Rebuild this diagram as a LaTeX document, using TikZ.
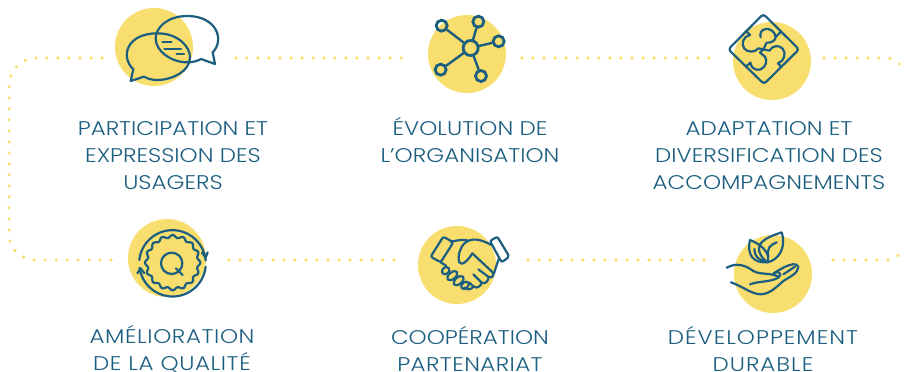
\documentclass[tikz,border=0pt]{standalone}
\usepackage{fontspec}
\setmainfont{Poppins}[UprightFont=* Light,FakeStretch=1.16]
\usetikzlibrary{arrows.meta}
\definecolor{sun}{HTML}{F8DE6E}
\definecolor{ink}{HTML}{1B5E80}
\tikzset{
 disc/.style={circle,fill=sun,draw=none,minimum size=78pt,inner sep=0pt},
 dots/.style={draw=sun,line width=3.6pt,line cap=round,dash pattern=on 0pt off 11pt},
 label/.style={text=ink,align=center,font=\fontsize{19.8}{27}\selectfont,inner sep=0pt},
 icon/.style={draw=ink,line width=2.2pt,line cap=round,line join=round},
 netc/.style={circle,draw=ink,line width=2.8pt,minimum size=11pt,inner sep=0pt},
 hub/.style={circle,draw=ink,line width=2.8pt,minimum size=15pt,inner sep=0pt},
 zoomed/.style={x=0.33333pt,y=-0.33333pt}
}
\begin{document}
\begin{tikzpicture}[x=1pt,y=-1pt]
\useasboundingbox (0,0) rectangle (906,372);
% discs
\node[disc] (c1) at (154,47) {};
\node[disc] (c2) at (467,54) {};
\node[disc] (c3) at (772,61) {};
\node[disc] (c4) at (167,258) {};
\node[disc] (c5) at (457,265) {};
\node[disc] (c6) at (773,274) {};
% dotted connectors
\coordinate (a1) at (102,58); \coordinate (a2) at (236,58); \coordinate (a3) at (410,58);
\coordinate (a4) at (522,58); \coordinate (a5) at (716,58); \coordinate (a6) at (824,58);
\coordinate (a7) at (902,67);
\coordinate (b1) at (115,260); \coordinate (b2) at (229,260); \coordinate (b3) at (396,260);
\coordinate (b4) at (528,260); \coordinate (b5) at (714,260); \coordinate (b6) at (833,260);
\coordinate (b7) at (903,251);
\draw[dots] (a1) -- (38,58) .. controls (20,58) and (9,70) .. (9,88) -- (9,232) .. controls (9,250) and (20,260) .. (38,260) -- (b1);
\draw[dots] (a2) -- (a3);
\draw[dots] (a4) -- (a5);
\draw[dots] (a6) -- (884,58) .. controls (892,58) and (898,61) .. (a7);
\draw[dots] (b2) -- (b3);
\draw[dots] (b4) -- (b5);
\draw[dots] (b6) -- (884,260) .. controls (892,260) and (898,257) .. (b7);
% labels
\node[label] (t1) at (173,156) {PARTICIPATION ET\\EXPRESSION DES\\USAGERS};
\node[label] (t2) at (470,140) {ÉVOLUTION DE\\L’ORGANISATION};
\node[label] (t3) at (769,156) {ADAPTATION ET\\DIVERSIFICATION DES\\ACCOMPAGNEMENTS};
\node[label] (t4) at (172,349) {\addfontfeature{LetterSpace=3}AMÉLIORATION\\\addfontfeature{LetterSpace=3}DE LA QUALITÉ};
\node[label] (t5) at (470,349) {COOPÉRATION\\\addfontfeature{LetterSpace=2}PARTENARIAT};
\node[label] (t6) at (763,349) {\addfontfeature{LetterSpace=5}DÉVELOPPEMENT\\\addfontfeature{LetterSpace=5}DURABLE};
% icon 1: speech bubbles
\begin{scope}[shift={(100,0)},zoomed]
\draw[icon] (100,208) .. controls (60,170) and (80,100) .. (172,100) .. controls (235,100) and (270,140) .. (270,172) .. controls (270,215) and (215,240) .. (172,240) .. controls (155,240) and (143,236) .. (132,230) -- (92,243) -- cycle;
\draw[icon] (338,157) .. controls (375,120) and (350,48) .. (262,48) .. controls (200,48) and (167,85) .. (167,115) .. controls (167,155) and (215,187) .. (262,187) .. controls (278,187) and (292,183) .. (303,177) -- (345,192) -- cycle;
\draw[icon] (187,127) -- (215,127) (193,146) -- (243,146) (230,162) -- (252,162);
\end{scope}
% icon 2: network
\begin{scope}[shift={(410,0)},zoomed]
\node[hub] (n0) at (182,144) {};
\node[netc] (n1) at (95,77) {};
\node[netc] (n2) at (205,65) {};
\node[netc] (n3) at (266,124) {};
\node[netc] (n4) at (213,228) {};
\node[netc] (n5) at (92,209) {};
\draw[icon,line width=2.4pt] (n0) -- (n1) (n0) -- (n2) (n0) -- (n3) (n0) -- (n4) (n0) -- (n5);
\end{scope}
% icon 3: puzzle
\begin{scope}[shift={(710,0)},zoomed]
\draw[icon,rounded corners=3pt] (160,42) -- (267,148) -- (162,252) -- (55,148) -- cycle;
\draw[icon] (108,93) -- (120,105) .. controls (100,108) and (92,132) .. (103,146) .. controls (113,158) and (135,158) .. (145,145) -- (160,148);
\draw[icon] (213,95) -- (197,111) .. controls (195,95) and (180,85) .. (168,87) .. controls (155,88) and (148,100) .. (152,112);
\draw[icon] (197,111) .. controls (198,122) and (180,130) .. (170,128) -- (160,148);
\draw[icon] (215,202) -- (204,190) .. controls (222,185) and (230,160) .. (218,146) .. controls (208,135) and (188,135) .. (178,152) -- (160,148);
\draw[icon] (108,200) -- (121,188) .. controls (122,205) and (140,213) .. (152,208) .. controls (168,202) and (173,180) .. (165,170) -- (150,158) -- (160,148);
\end{scope}
% icon 4: quality
\begin{scope}[shift={(110,210)},zoomed]
\draw[icon] (88,150) arc[start angle=-174,end angle=-5,radius=100];
\draw[icon] (276,128) -- (287,143) -- (293,127);
\draw[icon] (287,170) arc[start angle=6,end angle=172,radius=100];
\draw[icon] (82,190) -- (92,175) -- (103,190);
\draw[icon] plot[domain=0:360,samples=181,smooth] ({188+79*cos(\x)+4*cos(16*\x)*cos(\x)},{158+79*sin(\x)+4*cos(16*\x)*sin(\x)});
\draw[icon] (185,160) circle[radius=32];
\draw[icon] (198,175) -- (218,195);
\end{scope}
% icon 5: handshake
\begin{scope}[shift={(410,215)},zoomed]
\draw[icon,rounded corners=2pt] (100,65) -- (130,82) -- (92,142) -- (62,125) -- cycle;
\draw[icon,rounded corners=2pt] (262,65) -- (298,125) -- (275,142) -- (240,78) -- cycle;
\draw[icon] (122,80) .. controls (140,78) and (150,72) .. (172,76);
\draw[icon] (245,90) .. controls (225,80) and (195,65) .. (170,80) .. controls (150,92) and (142,125) .. (148,142) .. controls (155,155) and (175,135) .. (187,115) -- (248,172) .. controls (255,182) and (245,190) .. (236,186) -- (205,163);
\draw[icon] (236,186) .. controls (235,200) and (225,208) .. (215,203) -- (190,178);
\draw[icon] (215,203) .. controls (212,215) and (200,222) .. (190,214) -- (178,203);
\draw[icon] (190,214) .. controls (185,225) and (172,225) .. (163,218);
\draw[icon] (252,175) -- (266,132);
\draw[icon] (92,142) -- (108,152);
\draw[icon,rotate around={40:(107,167)}] (107,167) ellipse[x radius=12,y radius=10];
\draw[icon,rotate around={40:(127,182)}] (127,182) ellipse[x radius=18,y radius=10];
\draw[icon,rotate around={40:(146,197)}] (146,197) ellipse[x radius=18,y radius=10];
\draw[icon,rotate around={40:(165,211)}] (165,211) ellipse[x radius=13,y radius=9];
\end{scope}
% icon 6: hand and plant
\begin{scope}[shift={(715,225)},zoomed]
\draw[icon] (200,22) .. controls (160,35) and (125,50) .. (133,80) .. controls (138,95) and (148,105) .. (157,112) .. controls (190,105) and (215,70) .. (200,22);
\draw[icon] (105,45) .. controls (95,90) and (115,115) .. (157,112) .. controls (165,95) and (155,65) .. (105,45);
\draw[icon] (118,72) .. controls (118,92) and (130,105) .. (148,108);
\draw[icon] (185,52) .. controls (165,60) and (155,70) .. (160,95);
\draw[icon] (35,128) .. controls (65,112) and (90,120) .. (115,138) .. controls (135,150) and (165,142) .. (190,155);
\draw[icon] (105,178) .. controls (130,168) and (165,172) .. (190,158) .. controls (205,148) and (190,135) .. (175,145);
\draw[icon] (48,172) .. controls (85,185) and (105,205) .. (135,208) .. controls (165,208) and (185,185) .. (205,168) .. controls (225,155) and (250,145) .. (250,125) .. controls (245,112) and (225,118) .. (205,128) -- (180,142);
\draw[icon] (205,148) -- (240,125);
\end{scope}
\end{tikzpicture}
\end{document}
